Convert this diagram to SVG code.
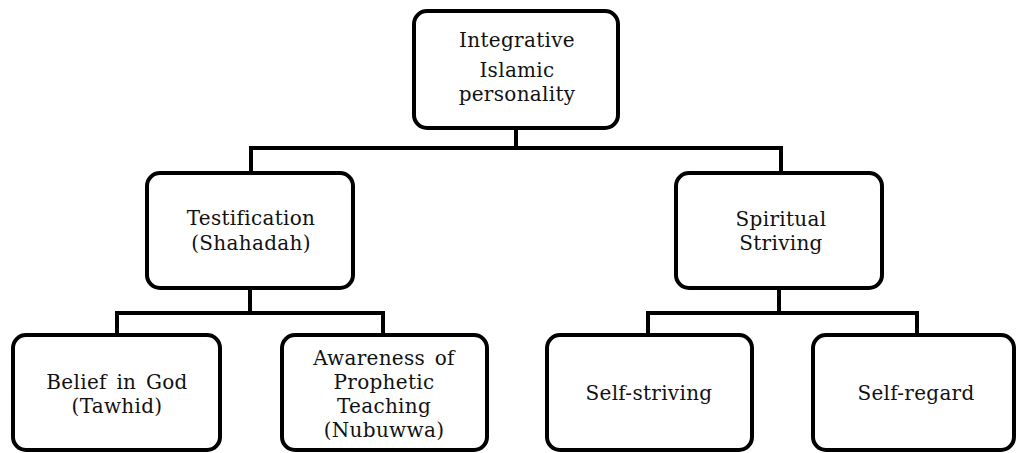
<svg xmlns="http://www.w3.org/2000/svg" width="1016" height="453" viewBox="0 0 1016 453">
<style>
.box{fill:#fff;stroke:#000;stroke-width:4}
.c{fill:none;stroke:#000;stroke-width:4;stroke-linecap:square}
.lbl{font-family:'DejaVu Serif','Liberation Serif',serif;font-size:20px;letter-spacing:0.3px;word-spacing:3px;text-anchor:middle;fill:#111}
</style>
<rect width="1016" height="453" fill="#fff"/>
<g id="connectors">
<path class="c" d="M516 128V148M251 148H781M251 148V173M781 148V173"/>
<path class="c" d="M250 288V313M117 313H383M117 313V335M383 313V335"/>
<path class="c" d="M779 288V313M648 313H917M648 313V335M917 313V335"/>
</g>
<g class="lbl">
<g id="n-root">
<rect class="box" x="414" y="11" width="204" height="117" rx="13"/>
<text x="517" y="47">Integrative</text>
<text x="517" y="77">Islamic</text>
<text x="517" y="101">personality</text>
</g>
<g id="n-testification">
<rect class="box" x="147" y="173" width="206" height="115" rx="13"/>
<text x="251" y="225">Testification</text>
<text x="251" y="250">(Shahadah)</text>
</g>
<g id="n-spiritual">
<rect class="box" x="676" y="173" width="206" height="115" rx="13"/>
<text x="781" y="226">Spiritual</text>
<text x="781" y="250">Striving</text>
</g>
<g id="n-belief">
<rect class="box" x="13" y="335" width="207" height="115" rx="13"/>
<text x="117" y="389">Belief in God</text>
<text x="117" y="413">(Tawhid)</text>
</g>
<g id="n-awareness">
<rect class="box" x="282" y="335" width="205" height="115" rx="13"/>
<text x="384" y="365">Awareness of</text>
<text x="384" y="389">Prophetic</text>
<text x="384" y="413">Teaching</text>
<text x="384" y="437">(Nubuwwa)</text>
</g>
<g id="n-selfstriving">
<rect class="box" x="547" y="335" width="205" height="115" rx="13"/>
<text x="649" y="400">Self-striving</text>
</g>
<g id="n-selfregard">
<rect class="box" x="813" y="335" width="201" height="115" rx="13"/>
<text x="916" y="400">Self-regard</text>
</g>
</g>
</svg>
